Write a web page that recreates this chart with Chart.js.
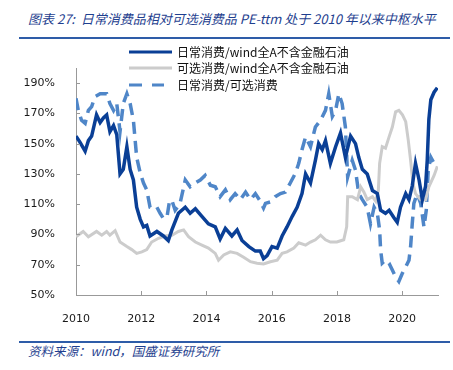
<!DOCTYPE html>
<html>
<head>
<meta charset="utf-8">
<script src="https://cdn.jsdelivr.net/npm/chart.js@4.4.0/dist/chart.umd.min.js"></script>
<style>
  html, body { margin: 0; padding: 0; background: #fff; }
  body { width: 453px; height: 370px; position: relative; overflow: hidden; }
  #title { position: absolute; left: 28px; top: 10px; font: italic 13px "Noto Sans CJK SC", sans-serif; line-height: 18px; color: #1f3f8f; white-space: nowrap; }
  #source { position: absolute; left: 28px; top: 342px; font: italic 12.5px "Noto Sans CJK SC", sans-serif; line-height: 18px; color: #1f3f8f; white-space: nowrap; }
  .rule { position: absolute; left: 19px; width: 431px; height: 2px; background: #2e5ca8; }
  #chart { position: absolute; left: 0; top: 40px; }
</style>
</head>
<body>
<div id="title">图表 27:&nbsp; 日常消费品相对可选消费品 PE-ttm 处于 2010 年以来中枢水平</div>
<div class="rule" style="top:37px"></div>
<canvas id="chart" width="453" height="300"></canvas>
<div class="rule" style="top:341px"></div>
<div id="source">资料来源：wind，国盛证券研究所</div>
<script>
// ---- data (values in %) ----
const seriesNames = ["日常消费/wind全A不含金融石油", "可选消费/wind全A不含金融石油", "日常消费/可选消费"];
const yTickValues = [50, 70, 90, 110, 130, 150, 170, 190];
const xTickYears = [2010, 2012, 2014, 2016, 2018, 2020];

const stapleX = [2010.0, 2010.12, 2010.28, 2010.38, 2010.48, 2010.63, 2010.74, 2010.84, 2010.94, 2011.04, 2011.15, 2011.25, 2011.35, 2011.45, 2011.56, 2011.66, 2011.76, 2011.86, 2011.97, 2012.07, 2012.17, 2012.27, 2012.48, 2012.68, 2012.83, 2012.94, 2013.14, 2013.35, 2013.5, 2013.66, 2013.86, 2014.06, 2014.27, 2014.42, 2014.58, 2014.78, 2014.94, 2015.09, 2015.3, 2015.5, 2015.65, 2015.75, 2015.86, 2016.01, 2016.17, 2016.32, 2016.47, 2016.63, 2016.78, 2016.93, 2017.04, 2017.19, 2017.34, 2017.44, 2017.55, 2017.65, 2017.8, 2017.96, 2018.11, 2018.26, 2018.42, 2018.57, 2018.67, 2018.78, 2018.93, 2019.09, 2019.24, 2019.34, 2019.49, 2019.6, 2019.75, 2019.85, 2019.95, 2020.11, 2020.21, 2020.31, 2020.41, 2020.52, 2020.62, 2020.72, 2020.77, 2020.82, 2020.88, 2020.98, 2021.08];
const stapleY = [155, 151, 145, 152, 155, 169, 164, 167, 169, 158, 162, 156, 130, 133, 148, 133, 126, 108, 100, 95, 96, 89, 92, 89, 86, 93, 104, 108, 104, 107, 102, 97, 95, 87, 94, 89, 93, 86, 82, 79, 79, 74, 76, 82, 81, 89, 95, 102, 108, 117, 130, 124, 139, 150, 146, 152, 137, 148, 157, 141, 155, 150, 141, 133, 130, 119, 117, 106, 104, 106, 101, 98, 108, 117, 113, 122, 137, 126, 113, 122, 139, 166, 179, 184, 187];

const discX = [2010.0, 2010.22, 2010.38, 2010.63, 2010.79, 2010.94, 2011.04, 2011.2, 2011.35, 2011.56, 2011.71, 2011.86, 2012.02, 2012.17, 2012.32, 2012.53, 2012.73, 2012.94, 2013.14, 2013.3, 2013.45, 2013.66, 2013.86, 2014.06, 2014.27, 2014.37, 2014.53, 2014.73, 2014.94, 2015.14, 2015.35, 2015.55, 2015.75, 2015.96, 2016.17, 2016.32, 2016.47, 2016.68, 2016.83, 2017.04, 2017.19, 2017.34, 2017.5, 2017.65, 2017.8, 2018.0, 2018.21, 2018.3, 2018.33, 2018.47, 2018.63, 2018.73, 2018.83, 2018.93, 2019.09, 2019.19, 2019.27, 2019.31, 2019.39, 2019.49, 2019.6, 2019.7, 2019.8, 2019.9, 2020.01, 2020.11, 2020.19, 2020.26, 2020.33, 2020.41, 2020.57, 2020.72, 2020.82, 2020.98, 2021.08];
const discY = [88.5, 92, 88.5, 92, 89.5, 92, 89.5, 92.5, 85, 82, 80, 77.5, 78.5, 80, 85, 87.5, 89, 89.5, 92, 93, 88.5, 85, 83, 81, 77.5, 73, 76.5, 78.5, 77.5, 75, 72, 71, 70.5, 72, 73, 77.5, 78.5, 81, 84.5, 83, 85, 86.5, 89.5, 86.5, 85, 85, 86.5, 95, 115, 115, 113, 121.5, 118, 113, 115, 112, 119, 137, 148, 147, 154.5, 161, 171, 172, 169, 164.5, 152, 139, 124, 117, 113, 113, 121.5, 129, 135];

const ratioX = [2010.0, 2010.07, 2010.17, 2010.28, 2010.38, 2010.48, 2010.58, 2010.74, 2010.94, 2011.04, 2011.15, 2011.25, 2011.35, 2011.45, 2011.56, 2011.66, 2011.76, 2011.86, 2011.97, 2012.07, 2012.17, 2012.27, 2012.38, 2012.48, 2012.58, 2012.68, 2012.79, 2012.87, 2012.94, 2013.04, 2013.19, 2013.35, 2013.5, 2013.66, 2013.81, 2013.96, 2014.12, 2014.27, 2014.42, 2014.58, 2014.73, 2014.88, 2015.04, 2015.2, 2015.35, 2015.5, 2015.65, 2015.75, 2015.81, 2015.96, 2016.11, 2016.27, 2016.42, 2016.57, 2016.73, 2016.83, 2016.93, 2017.04, 2017.19, 2017.34, 2017.5, 2017.65, 2017.75, 2017.86, 2017.96, 2018.06, 2018.16, 2018.26, 2018.33, 2018.47, 2018.57, 2018.67, 2018.78, 2018.93, 2019.03, 2019.14, 2019.24, 2019.31, 2019.34, 2019.39, 2019.49, 2019.6, 2019.7, 2019.8, 2019.9, 2020.01, 2020.11, 2020.21, 2020.26, 2020.31, 2020.36, 2020.46, 2020.57, 2020.67, 2020.74, 2020.8, 2020.88, 2020.98, 2021.08];
const ratioY = [180, 172, 165.5, 163.5, 172, 174.5, 181, 183, 183, 176.5, 172, 176.5, 158, 176.5, 183, 176.5, 165.5, 141, 130.5, 124, 119.5, 108, 107, 108, 104, 100.5, 101.5, 112.5, 112.5, 106, 110.5, 126, 121.5, 124, 126, 129, 122.5, 121.5, 115, 119.5, 113, 117, 113, 118, 113, 117, 112, 107.5, 110.5, 111.5, 115, 117, 118, 124, 130.5, 137, 146, 154.5, 148, 161, 165.5, 172, 183, 168, 172, 183, 176.5, 161, 128, 139, 132.5, 117, 113, 108, 97, 108, 104, 93, 80, 71, 73, 71, 66.5, 62, 59, 64.5, 68.5, 73, 82, 97, 110.5, 117, 110.5, 95, 106, 132.5, 141, 137, 139];

const colors = ["#0a3f96", "#cccccc", "#4f86c8"];

function pts(xs, ys) { return xs.map((x, i) => ({ x: x, y: ys[i] })); }

const legendPlugin = {
  id: 'customLegend',
  afterDraw(chart) {
    const ctx = chart.ctx;
    const rows = [12, 28, 45];
    ctx.save();
    ctx.font = '12px "Noto Sans CJK SC", sans-serif';
    ctx.textBaseline = 'middle';
    ctx.fillStyle = '#111111';
    rows.forEach((y, i) => {
      ctx.beginPath();
      ctx.lineWidth = 3;
      ctx.strokeStyle = colors[i];
      ctx.setLineDash(i === 2 ? [13, 10] : []);
      ctx.moveTo(129, y);
      ctx.lineTo(i === 2 ? 164 : 172, y);
      ctx.stroke();
      ctx.setLineDash([]);
      ctx.fillText(seriesNames[i], 177, y);
    });
    ctx.restore();
  }
};

const tickPlugin = {
  id: 'innerTicks',
  afterDraw(chart) {
    const ctx = chart.ctx;
    const xs = chart.scales.x, ys = chart.scales.y;
    const a = chart.chartArea;
    ctx.save();
    ctx.strokeStyle = '#999999';
    ctx.lineWidth = 1;
    ctx.beginPath();
    xs.ticks.forEach(t => {
      const px = Math.round(xs.getPixelForValue(t.value)) + 0.5;
      ctx.moveTo(px, a.bottom); ctx.lineTo(px, a.bottom - 4);
    });
    ys.ticks.forEach(t => {
      const py = Math.round(ys.getPixelForValue(t.value)) + 0.5;
      ctx.moveTo(a.left, py); ctx.lineTo(a.left + 4, py);
    });
    ctx.stroke();
    ctx.restore();
  }
};

new Chart(document.getElementById('chart'), {
  type: 'line',
  data: {
    datasets: [
      { label: seriesNames[0], data: pts(stapleX, stapleY), borderColor: colors[0], borderWidth: 3.5, pointRadius: 0, tension: 0, fill: false },
      { label: seriesNames[1], data: pts(discX, discY), borderColor: colors[1], borderWidth: 3, pointRadius: 0, tension: 0, fill: false },
      { label: seriesNames[2], data: pts(ratioX, ratioY), borderColor: colors[2], borderWidth: 3.5, borderDash: [12, 7], pointRadius: 0, tension: 0, fill: false }
    ]
  },
  options: {
    responsive: false,
    animation: false,
    layout: { padding: { left: 0, right: 15, top: 28, bottom: 0 } },
    plugins: { legend: { display: false }, tooltip: { enabled: false } },
    scales: {
      x: {
        type: 'linear', min: 2010, max: 2021.1,
        grid: { display: false },
        border: { display: true, color: '#999999', width: 1 },
        afterBuildTicks: s => { s.ticks = xTickYears.map(v => ({ value: v })); },
        afterFit: s => { s.height = 45; },
        ticks: { padding: 10, color: '#1a1a1a', font: { family: 'DejaVu Sans', size: 11 }, callback: v => String(v), maxRotation: 0 }
      },
      y: {
        min: 50, max: 200,
        grid: { display: false },
        border: { display: true, color: '#999999', width: 1 },
        afterBuildTicks: s => { s.ticks = yTickValues.map(v => ({ value: v })); },
        afterFit: s => { s.width = 76; },
        ticks: { padding: 13, color: '#1a1a1a', font: { family: 'DejaVu Sans', size: 11 }, callback: v => v + '%' }
      }
    }
  },
  plugins: [tickPlugin, legendPlugin]
});
</script>
</body>
</html>
